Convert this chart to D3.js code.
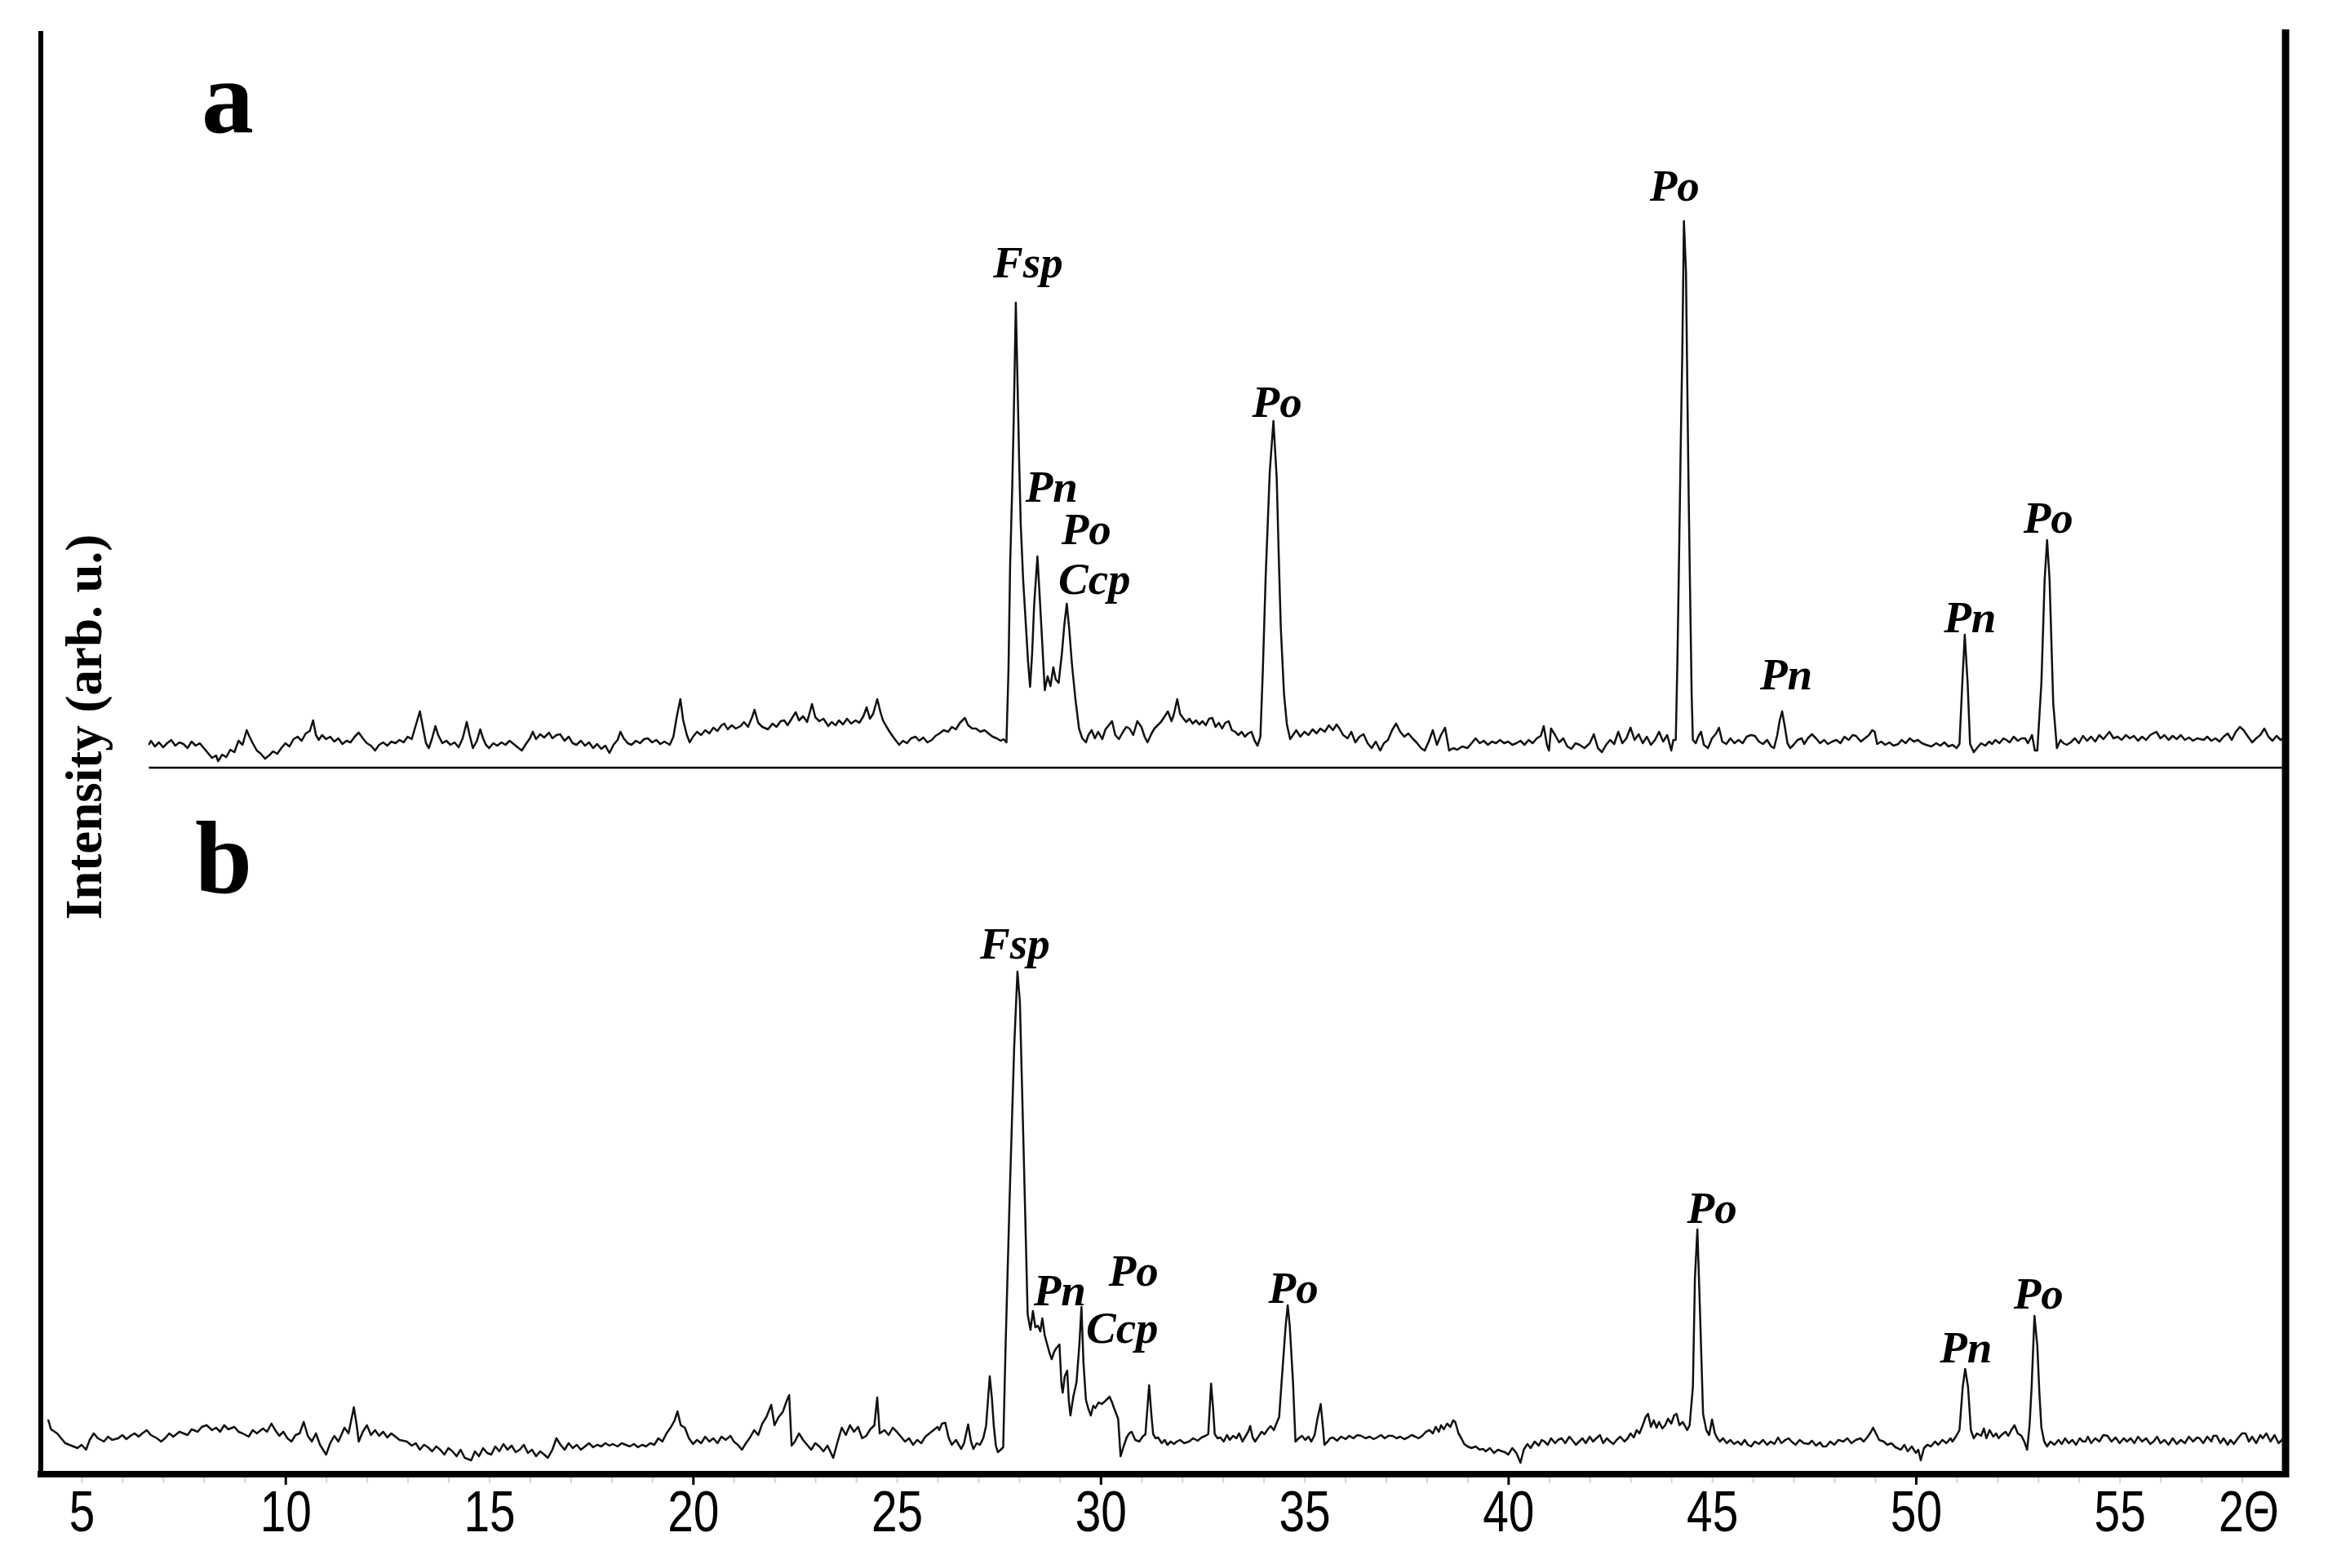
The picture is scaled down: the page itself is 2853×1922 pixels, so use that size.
<!DOCTYPE html>
<html><head><meta charset="utf-8">
<script src="https://cdn.jsdelivr.net/npm/d3@7"></script>
<style>body{margin:0;background:#fff;} svg{display:block}</style>
</head><body>
<script>
// ---------- DATA ----------
const xDomain = [4, 59.05];
const tickLabels = [5, 10, 15, 20, 25, 30, 35, 40, 45, 50, 55];
const majorTicks = [10, 20, 30, 40, 50];
const minorTicks = [5,6,7,8,9,11,12,13,14,15,16,17,18,19,21,22,23,24,25,26,27,28,29,31,32,33,34,35,36,37,38,39,41,42,43,44,45,46,47,48,49,51,52,53,54,55,56,57,58];
const axisTitleX = "2Θ";
const axisTitleY = "Intensity (arb. u.)";
const panelNames = ["a", "b"];

// pattern a: [2theta, intensity]
const scanA = [[6.65,28],[6.7,33],[6.8,26],[6.9,31],[7.0,25],[7.1,30],[7.2,34],[7.3,27],[7.4,31],[7.5,29],[7.6,24],[7.7,32],[7.8,27],[7.9,30],[8.0,24],[8.1,18],[8.2,12],[8.3,15],[8.35,8],[8.45,16],[8.55,13],[8.65,22],[8.75,19],[8.85,33],[8.95,28],[9.05,46],[9.12,38],[9.2,30],[9.3,21],[9.4,17],[9.5,11],[9.6,15],[9.7,20],[9.8,17],[9.9,24],[10.0,30],[10.1,26],[10.2,35],[10.3,38],[10.4,33],[10.5,42],[10.6,45],[10.68,58],[10.75,40],[10.82,34],[10.9,40],[11.0,35],[11.1,38],[11.2,32],[11.3,36],[11.4,29],[11.5,33],[11.6,31],[11.7,38],[11.8,43],[11.9,36],[12.0,30],[12.1,27],[12.2,21],[12.3,28],[12.4,31],[12.5,27],[12.6,32],[12.7,30],[12.8,34],[12.9,31],[13.0,38],[13.1,35],[13.2,52],[13.3,69],[13.38,48],[13.45,30],[13.52,24],[13.6,36],[13.68,51],[13.75,40],[13.85,30],[13.95,33],[14.05,28],[14.15,31],[14.25,25],[14.35,36],[14.45,56],[14.52,40],[14.6,24],[14.7,33],[14.78,47],[14.85,36],[14.92,28],[15.0,24],[15.1,30],[15.2,27],[15.3,31],[15.4,28],[15.5,33],[15.6,29],[15.7,25],[15.8,21],[15.9,29],[16.0,36],[16.07,44],[16.15,35],[16.25,41],[16.35,37],[16.47,43],[16.55,36],[16.65,40],[16.74,41],[16.85,33],[16.95,38],[17.05,30],[17.14,28],[17.25,33],[17.35,27],[17.45,31],[17.55,24],[17.65,29],[17.75,23],[17.85,27],[17.95,18],[18.05,28],[18.15,34],[18.22,44],[18.3,36],[18.4,30],[18.49,28],[18.6,33],[18.7,30],[18.8,35],[18.89,36],[19.0,31],[19.1,34],[19.2,29],[19.3,32],[19.43,28],[19.52,38],[19.6,62],[19.69,84],[19.76,58],[19.85,40],[19.92,31],[20.0,38],[20.1,44],[20.2,40],[20.3,46],[20.4,42],[20.5,49],[20.6,45],[20.7,52],[20.77,54],[20.85,47],[20.95,52],[21.05,48],[21.17,51],[21.25,56],[21.35,50],[21.45,62],[21.51,71],[21.6,55],[21.7,50],[21.84,47],[21.95,54],[22.05,50],[22.15,57],[22.24,58],[22.32,52],[22.42,60],[22.52,68],[22.6,58],[22.7,63],[22.8,56],[22.92,78],[23.0,62],[23.1,57],[23.2,60],[23.32,51],[23.4,56],[23.5,52],[23.58,58],[23.68,53],[23.78,60],[23.88,54],[23.99,58],[24.08,55],[24.18,63],[24.26,74],[24.34,60],[24.42,66],[24.52,84],[24.6,68],[24.66,58],[24.75,50],[24.85,42],[24.95,35],[25.06,28],[25.15,33],[25.25,30],[25.35,36],[25.46,38],[25.55,33],[25.65,37],[25.75,31],[25.86,34],[25.95,39],[26.05,42],[26.15,46],[26.26,44],[26.35,50],[26.45,47],[26.55,55],[26.67,61],[26.75,52],[26.85,48],[26.94,48],[27.05,44],[27.15,46],[27.25,42],[27.35,38],[27.45,36],[27.55,33],[27.62,35],[27.69,31],[27.74,120],[27.78,248],[27.83,340],[27.87,431],[27.92,570],[27.97,452],[28.0,380],[28.04,299],[28.1,230],[28.17,172],[28.22,130],[28.27,99],[28.32,140],[28.37,200],[28.45,259],[28.5,215],[28.56,160],[28.63,95],[28.7,112],[28.77,100],[28.84,123],[28.9,108],[28.97,104],[29.05,140],[29.11,175],[29.17,201],[29.23,170],[29.3,125],[29.38,85],[29.47,48],[29.55,36],[29.64,31],[29.7,40],[29.78,46],[29.86,36],[29.94,44],[30.04,35],[30.12,47],[30.2,52],[30.28,57],[30.36,40],[30.45,35],[30.55,44],[30.63,50],[30.71,48],[30.8,40],[30.9,57],[31.0,50],[31.08,38],[31.15,31],[31.25,42],[31.32,48],[31.4,52],[31.48,56],[31.56,62],[31.65,69],[31.74,57],[31.8,66],[31.88,84],[31.95,66],[32.02,61],[32.1,56],[32.18,60],[32.26,54],[32.34,58],[32.42,53],[32.5,57],[32.58,52],[32.66,60],[32.74,61],[32.82,50],[32.9,55],[32.98,48],[33.06,55],[33.14,57],[33.22,46],[33.3,44],[33.38,40],[33.46,44],[33.54,38],[33.62,42],[33.7,44],[33.78,33],[33.85,27],[33.92,38],[33.98,120],[34.05,235],[34.15,363],[34.24,425],[34.32,355],[34.37,260],[34.42,172],[34.5,90],[34.57,53],[34.65,35],[34.72,40],[34.8,46],[34.9,38],[35.0,44],[35.1,40],[35.2,47],[35.3,42],[35.39,48],[35.5,44],[35.6,52],[35.7,46],[35.79,53],[35.86,48],[35.95,40],[36.06,36],[36.15,44],[36.25,31],[36.35,38],[36.45,41],[36.55,30],[36.65,24],[36.75,32],[36.86,21],[36.95,30],[37.05,34],[37.15,46],[37.25,54],[37.35,44],[37.45,38],[37.55,42],[37.65,36],[37.75,31],[37.86,24],[37.95,21],[38.05,32],[38.15,46],[38.25,28],[38.35,40],[38.45,49],[38.55,21],[38.65,24],[38.75,22],[38.87,26],[39.0,24],[39.1,30],[39.2,36],[39.3,30],[39.4,33],[39.5,28],[39.6,32],[39.7,30],[39.8,34],[39.9,30],[40.0,32],[40.1,28],[40.2,30],[40.3,33],[40.4,28],[40.5,34],[40.6,30],[40.7,36],[40.8,39],[40.87,51],[40.95,28],[41.0,21],[41.05,48],[41.15,40],[41.25,31],[41.35,36],[41.45,26],[41.55,23],[41.65,30],[41.75,28],[41.87,24],[42.0,30],[42.1,41],[42.2,24],[42.3,19],[42.4,28],[42.5,34],[42.6,29],[42.7,44],[42.8,30],[42.9,36],[43.0,49],[43.1,34],[43.2,41],[43.3,30],[43.4,38],[43.5,28],[43.6,34],[43.7,44],[43.8,32],[43.9,40],[44.0,21],[44.05,34],[44.11,34],[44.15,130],[44.19,256],[44.23,390],[44.27,508],[44.31,670],[44.36,609],[44.42,357],[44.46,220],[44.5,89],[44.53,34],[44.6,30],[44.66,38],[44.73,44],[44.8,28],[44.9,24],[45.0,36],[45.1,42],[45.17,49],[45.25,32],[45.35,29],[45.45,36],[45.55,30],[45.65,34],[45.75,30],[45.85,38],[45.95,40],[46.05,39],[46.15,32],[46.25,29],[46.35,34],[46.45,26],[46.52,24],[46.6,40],[46.66,58],[46.72,69],[46.78,52],[46.85,30],[46.92,24],[47.0,28],[47.1,34],[47.2,36],[47.26,29],[47.35,36],[47.45,41],[47.55,36],[47.65,30],[47.75,34],[47.84,29],[47.95,32],[48.05,34],[48.15,30],[48.25,38],[48.35,34],[48.45,40],[48.53,39],[48.65,32],[48.75,36],[48.85,40],[48.93,46],[48.99,44],[49.05,29],[49.15,32],[49.25,28],[49.35,31],[49.45,27],[49.57,29],[49.65,34],[49.75,30],[49.85,36],[49.95,32],[50.05,34],[50.15,30],[50.25,28],[50.38,26],[50.5,30],[50.6,27],[50.7,31],[50.8,26],[50.9,28],[51.0,24],[51.07,29],[51.14,104],[51.2,163],[51.27,104],[51.33,29],[51.42,19],[51.5,24],[51.6,30],[51.7,27],[51.8,32],[51.87,29],[51.95,34],[52.05,30],[52.15,36],[52.22,34],[52.3,31],[52.4,38],[52.5,33],[52.6,36],[52.68,36],[52.75,30],[52.85,40],[52.92,21],[52.98,21],[53.08,104],[53.16,231],[53.22,279],[53.28,231],[53.37,79],[53.46,24],[53.55,34],[53.62,30],[53.7,28],[53.8,31],[53.9,36],[54.0,30],[54.1,39],[54.2,33],[54.3,38],[54.4,32],[54.5,40],[54.6,35],[54.75,44],[54.85,36],[54.95,38],[55.05,34],[55.15,40],[55.25,36],[55.35,39],[55.45,33],[55.55,38],[55.65,34],[55.75,40],[55.9,44],[56.0,36],[56.1,40],[56.2,34],[56.3,39],[56.4,35],[56.5,40],[56.6,34],[56.7,37],[56.8,33],[56.9,36],[57.06,34],[57.15,38],[57.25,33],[57.35,36],[57.45,32],[57.55,38],[57.65,42],[57.75,34],[57.85,44],[57.95,50],[58.04,46],[58.15,38],[58.25,31],[58.35,36],[58.45,40],[58.55,48],[58.65,38],[58.75,33],[58.85,39],[58.95,34],[59.02,36]];

// pattern b: [2theta, intensity]
const scanB = [[4.18,67],[4.25,55],[4.4,50],[4.5,44],[4.6,38],[4.75,35],[4.9,32],[5.0,36],[5.11,30],[5.2,42],[5.3,50],[5.4,44],[5.55,40],[5.65,46],[5.75,42],[5.9,44],[6.0,48],[6.1,43],[6.2,47],[6.3,50],[6.4,46],[6.49,50],[6.6,54],[6.7,48],[6.85,44],[6.95,40],[7.05,44],[7.15,50],[7.25,46],[7.4,52],[7.5,50],[7.6,48],[7.7,55],[7.85,52],[7.95,58],[8.07,60],[8.2,54],[8.3,57],[8.4,52],[8.5,60],[8.6,55],[8.75,58],[8.85,52],[8.95,50],[9.1,46],[9.2,54],[9.3,50],[9.45,56],[9.55,52],[9.66,62],[9.75,54],[9.85,47],[9.95,52],[10.05,44],[10.15,40],[10.25,48],[10.35,50],[10.45,64],[10.55,47],[10.65,40],[10.75,50],[10.85,36],[11.0,24],[11.1,38],[11.2,47],[11.3,40],[11.45,57],[11.55,50],[11.68,82],[11.75,60],[11.8,40],[11.9,52],[12.0,60],[12.1,48],[12.2,54],[12.3,47],[12.4,52],[12.5,45],[12.6,50],[12.7,46],[12.8,42],[12.98,40],[13.1,35],[13.2,38],[13.3,30],[13.4,36],[13.5,33],[13.6,28],[13.7,34],[13.8,30],[13.9,24],[14.0,32],[14.1,28],[14.2,22],[14.3,30],[14.4,20],[14.56,17],[14.65,28],[14.75,22],[14.85,32],[14.95,26],[15.05,24],[15.15,34],[15.25,28],[15.35,37],[15.45,30],[15.55,35],[15.65,27],[15.75,30],[15.85,36],[15.95,26],[16.05,30],[16.15,22],[16.25,28],[16.35,24],[16.44,20],[16.55,30],[16.65,44],[16.75,36],[16.85,30],[16.95,38],[17.05,32],[17.15,36],[17.25,30],[17.35,34],[17.45,38],[17.55,33],[17.65,36],[17.75,34],[17.85,38],[17.95,35],[18.03,37],[18.15,34],[18.25,38],[18.35,36],[18.45,34],[18.55,37],[18.65,33],[18.75,36],[18.85,34],[18.95,38],[19.05,36],[19.15,44],[19.25,40],[19.35,50],[19.45,57],[19.55,66],[19.62,77],[19.7,60],[19.8,57],[19.9,44],[20.0,37],[20.1,42],[20.2,38],[20.3,46],[20.4,40],[20.5,44],[20.6,38],[20.7,46],[20.8,42],[20.92,47],[21.0,40],[21.1,36],[21.2,30],[21.3,38],[21.4,45],[21.5,54],[21.6,48],[21.7,62],[21.8,70],[21.92,85],[22.0,60],[22.1,70],[22.2,76],[22.3,90],[22.36,97],[22.42,35],[22.5,40],[22.6,50],[22.7,42],[22.8,36],[22.9,30],[23.0,38],[23.1,34],[23.2,28],[23.3,35],[23.44,20],[23.55,40],[23.65,57],[23.75,48],[23.85,60],[23.95,52],[24.05,58],[24.15,44],[24.25,47],[24.35,55],[24.45,60],[24.52,94],[24.58,50],[24.7,54],[24.8,48],[24.9,57],[25.0,52],[25.1,46],[25.2,40],[25.3,44],[25.4,36],[25.5,42],[25.6,38],[25.7,46],[25.8,50],[25.9,54],[26.0,58],[26.04,54],[26.11,62],[26.19,63],[26.27,45],[26.35,36],[26.45,42],[26.58,31],[26.65,38],[26.75,61],[26.82,40],[26.88,31],[26.96,38],[27.04,36],[27.12,44],[27.19,59],[27.28,120],[27.33,95],[27.38,59],[27.43,35],[27.48,27],[27.55,30],[27.61,33],[27.67,159],[27.77,342],[27.88,524],[27.96,616],[28.02,579],[28.07,479],[28.15,319],[28.21,196],[28.28,177],[28.34,200],[28.4,180],[28.46,182],[28.52,175],[28.57,191],[28.63,170],[28.69,159],[28.75,148],[28.8,141],[28.86,150],[28.92,155],[28.99,159],[29.04,110],[29.07,100],[29.12,120],[29.18,127],[29.22,90],[29.26,72],[29.33,95],[29.41,113],[29.48,160],[29.53,205],[29.58,136],[29.64,91],[29.7,80],[29.76,72],[29.82,84],[29.87,81],[29.95,88],[30.03,86],[30.12,90],[30.22,95],[30.28,88],[30.33,81],[30.43,68],[30.49,22],[30.57,35],[30.64,45],[30.7,50],[30.76,52],[30.85,42],[30.95,40],[31.03,46],[31.1,49],[31.19,109],[31.25,70],[31.29,49],[31.35,44],[31.41,45],[31.5,38],[31.57,42],[31.64,36],[31.72,40],[31.8,37],[31.87,40],[31.95,42],[32.05,38],[32.17,40],[32.27,44],[32.38,41],[32.48,45],[32.57,47],[32.64,49],[32.71,111],[32.76,80],[32.8,49],[32.87,44],[32.94,45],[33.02,40],[33.1,48],[33.17,42],[33.25,47],[33.33,44],[33.4,50],[33.48,40],[33.55,46],[33.62,52],[33.67,59],[33.73,45],[33.79,40],[33.87,46],[33.95,52],[34.02,49],[34.1,55],[34.17,59],[34.25,54],[34.32,63],[34.38,70],[34.44,113],[34.54,182],[34.59,207],[34.64,182],[34.72,113],[34.78,40],[34.86,44],[34.94,47],[35.02,42],[35.1,46],[35.17,40],[35.25,48],[35.32,68],[35.4,86],[35.45,60],[35.49,36],[35.57,40],[35.63,44],[35.7,45],[35.8,41],[35.9,46],[36.01,43],[36.1,47],[36.2,44],[36.3,48],[36.39,47],[36.5,44],[36.6,46],[36.7,43],[36.78,45],[36.88,48],[36.97,44],[37.06,47],[37.16,47],[37.26,44],[37.35,46],[37.45,43],[37.54,45],[37.63,48],[37.72,46],[37.8,44],[37.89,47],[37.98,52],[38.07,54],[38.15,50],[38.22,58],[38.3,52],[38.35,60],[38.42,55],[38.5,62],[38.58,58],[38.65,66],[38.7,64],[38.78,50],[38.85,44],[38.92,37],[39.0,34],[39.1,32],[39.2,34],[39.3,30],[39.38,31],[39.45,28],[39.55,32],[39.65,26],[39.75,30],[39.85,28],[39.92,27],[40.0,24],[40.1,32],[40.2,26],[40.3,14],[40.38,30],[40.47,37],[40.55,32],[40.65,40],[40.75,35],[40.82,42],[40.89,40],[40.97,36],[41.05,44],[41.15,38],[41.22,42],[41.31,44],[41.4,38],[41.5,46],[41.6,40],[41.66,36],[41.74,40],[41.82,44],[41.9,38],[42.0,46],[42.08,40],[42.16,44],[42.25,48],[42.33,38],[42.42,44],[42.5,40],[42.58,37],[42.66,42],[42.75,46],[42.85,40],[42.93,44],[43.0,50],[43.08,45],[43.15,54],[43.22,50],[43.3,60],[43.37,70],[43.43,74],[43.5,58],[43.57,66],[43.64,57],[43.7,64],[43.78,56],[43.85,60],[43.92,68],[44.0,62],[44.07,72],[44.13,74],[44.2,60],[44.28,64],[44.35,58],[44.39,54],[44.45,60],[44.53,107],[44.58,240],[44.64,300],[44.7,207],[44.78,74],[44.86,54],[44.93,48],[45.0,67],[45.07,50],[45.13,44],[45.19,40],[45.27,44],[45.36,38],[45.45,42],[45.54,37],[45.63,40],[45.72,36],[45.8,42],[45.88,36],[45.96,34],[46.05,40],[46.15,37],[46.25,42],[46.35,36],[46.44,40],[46.53,37],[46.62,45],[46.7,38],[46.8,42],[46.88,44],[46.95,40],[47.05,36],[47.15,42],[47.25,38],[47.37,37],[47.45,41],[47.55,35],[47.65,39],[47.72,34],[47.8,34],[47.9,40],[48.0,36],[48.1,42],[48.22,40],[48.32,44],[48.42,38],[48.53,42],[48.64,44],[48.72,40],[48.82,46],[48.9,52],[48.95,57],[49.02,50],[49.1,42],[49.21,40],[49.3,36],[49.4,38],[49.5,33],[49.63,30],[49.72,36],[49.8,28],[49.9,34],[50.0,26],[50.06,30],[50.12,17],[50.2,32],[50.28,36],[50.37,34],[50.47,40],[50.55,36],[50.65,42],[50.75,38],[50.85,44],[50.9,40],[50.98,46],[51.07,54],[51.15,107],[51.21,129],[51.28,107],[51.35,54],[51.42,44],[51.5,50],[51.6,47],[51.67,56],[51.73,44],[51.81,54],[51.9,46],[51.97,50],[52.03,44],[52.1,48],[52.2,52],[52.27,47],[52.34,54],[52.42,60],[52.5,50],[52.59,47],[52.66,40],[52.73,30],[52.79,60],[52.84,107],[52.91,194],[52.98,157],[53.03,100],[53.08,57],[53.15,40],[53.22,34],[53.3,40],[53.4,36],[53.5,42],[53.58,37],[53.66,44],[53.75,38],[53.84,42],[53.93,36],[54.02,44],[54.1,40],[54.16,40],[54.22,46],[54.3,38],[54.4,44],[54.5,40],[54.6,48],[54.7,47],[54.8,40],[54.9,45],[55.0,38],[55.1,44],[55.18,40],[55.27,44],[55.36,38],[55.45,46],[55.55,40],[55.65,44],[55.75,37],[55.83,40],[55.92,46],[56.0,38],[56.1,42],[56.2,36],[56.3,44],[56.4,37],[56.5,42],[56.6,38],[56.7,46],[56.8,40],[56.9,45],[56.96,44],[57.05,38],[57.15,46],[57.25,40],[57.3,47],[57.38,47],[57.47,38],[57.55,44],[57.65,36],[57.72,42],[57.8,37],[57.9,44],[58.0,50],[58.09,50],[58.17,40],[58.25,46],[58.35,38],[58.45,48],[58.51,44],[58.6,50],[58.7,40],[58.8,48],[58.9,38],[59.02,44]];

// peak annotations: label, 2theta of label centre, intensity at label baseline
const peakLabelsA = [
  ["Fsp", 28.22, 601], ["Pn", 28.80, 326], ["Po", 29.65, 274], ["Ccp", 29.85, 213],
  ["Po", 34.33, 430], ["Po", 44.08, 695], ["Pn", 46.82, 96], ["Pn", 51.33, 166], ["Po", 53.25, 288]
];
const peakLabelsB = [
  ["Fsp", 27.90, 632], ["Pn", 29.00, 207], ["Po", 30.81, 231], ["Ccp", 30.53, 161],
  ["Po", 34.73, 210], ["Po", 45.00, 308], ["Pn", 51.23, 137], ["Po", 53.01, 203]
];

// ---------- DRAW ----------
const W = 2853, H = 1922;
const svg = d3.select("body").append("svg").attr("width", W).attr("height", H);
svg.append("rect").attr("width", W).attr("height", H).attr("fill", "#fff");

const x = d3.scaleLinear().domain(xDomain).range([50, 2800]);
const yA = d3.scaleLinear().domain([0, 700]).range([941, 241]);
const yB = d3.scaleLinear().domain([0, 700]).range([1807, 1107]);

const serif = "'Liberation Serif','Times New Roman',serif";
const sans = "'Liberation Sans',Arial,sans-serif";

// panel a base line
svg.append("line").attr("x1", x(scanA[0][0])).attr("x2", 2800)
  .attr("y1", yA(0)).attr("y2", yA(0)).attr("stroke", "#000").attr("stroke-width", 2.5);

// traces
function drawTrace(data, y) {
  svg.append("path").datum(data)
    .attr("d", d3.line().x(d => x(d[0])).y(d => y(d[1])))
    .attr("fill", "none").attr("stroke", "#111").attr("stroke-width", 2.5)
    .attr("stroke-linejoin", "round");
}
drawTrace(scanA, yA);
drawTrace(scanB, yB);

// x axis: minor ticks, major ticks, labels
const gx = svg.append("g").attr("transform", `translate(0,${yB(0)})`);
gx.append("g").call(d3.axisBottom(x).tickValues(minorTicks).tickSize(11).tickFormat(""))
  .call(g => g.select(".domain").remove())
  .selectAll("line").attr("stroke", "#d4d4d4").attr("stroke-width", 2);
gx.append("g").call(d3.axisBottom(x).tickValues(majorTicks).tickSize(13).tickFormat(""))
  .call(g => g.select(".domain").remove())
  .selectAll("line").attr("stroke", "#000").attr("stroke-width", 3);
const gl = gx.append("g").call(d3.axisBottom(x).tickValues(tickLabels).tickSize(0).tickPadding(20).tickFormat(d3.format("d")));
gl.select(".domain").remove();
gl.selectAll("text").attr("font-family", sans).attr("font-size", 71).attr("fill", "#000")
  .attr("transform", "scale(0.8,1)");
gx.append("text").text(axisTitleX).attr("x", 2756 / 0.78).attr("y", 20).attr("dy", "0.71em")
  .attr("text-anchor", "middle").attr("font-family", sans).attr("font-size", 71)
  .attr("transform", "scale(0.78,1)");

// frame lines
svg.append("line").attr("x1", 46).attr("x2", 2805).attr("y1", 1807).attr("y2", 1807)
  .attr("stroke", "#000").attr("stroke-width", 8);
svg.append("line").attr("x1", 50).attr("x2", 50).attr("y1", 38).attr("y2", 1811)
  .attr("stroke", "#000").attr("stroke-width", 6);
svg.append("line").attr("x1", 2801).attr("x2", 2801).attr("y1", 36).attr("y2", 1811)
  .attr("stroke", "#000").attr("stroke-width", 9);

// y title
svg.append("text").text(axisTitleY)
  .attr("transform", "translate(124,891) rotate(-90)")
  .attr("text-anchor", "middle").attr("font-family", serif).attr("font-weight", "bold")
  .attr("font-size", 63);

// panel letters
svg.append("text").text(panelNames[0]).attr("x", 279).attr("y", 162)
  .attr("text-anchor", "middle").attr("font-family", serif).attr("font-weight", "bold").attr("font-size", 128);
svg.append("text").text(panelNames[1]).attr("x", 274).attr("y", 1094)
  .attr("text-anchor", "middle").attr("font-family", serif).attr("font-weight", "bold").attr("font-size", 126);

// peak labels
function drawLabels(list, y) {
  svg.append("g").selectAll("text").data(list).join("text")
    .text(d => d[0]).attr("x", d => x(d[1])).attr("y", d => y(d[2]))
    .attr("text-anchor", "middle").attr("font-family", serif)
    .attr("font-weight", "bold").attr("font-style", "italic").attr("font-size", 55);
}
drawLabels(peakLabelsA, yA);
drawLabels(peakLabelsB, yB);
</script>
</body></html>
